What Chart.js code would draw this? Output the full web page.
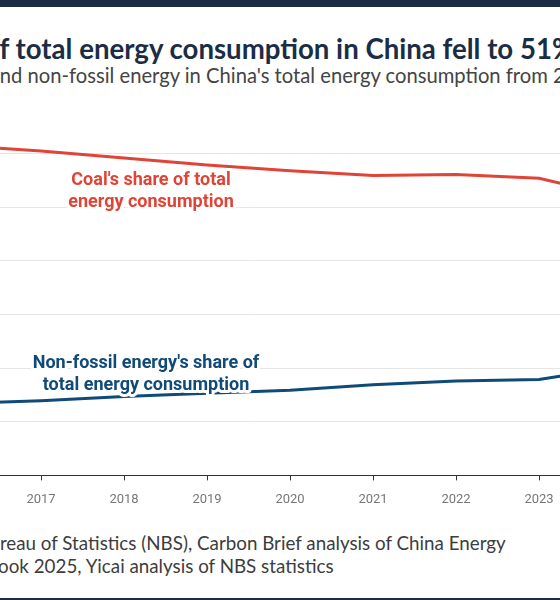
<!DOCTYPE html>
<html><head><meta charset="utf-8">
<script src="https://cdn.jsdelivr.net/npm/chart.js@4.4.1/dist/chart.umd.min.js"></script>
<style>
html,body{margin:0;padding:0;width:560px;height:600px;overflow:hidden;background:#fff;position:relative}
.bar-top{position:absolute;left:0;top:0;width:560px;height:7px;background:#1b2d45}
.bar-bot{position:absolute;left:0;top:598px;width:560px;height:2px;background:#1b2d45}
.txt{position:absolute;white-space:nowrap;font-family:Lato,"Noto Sans",sans-serif}
#title{font-weight:700;font-size:27.6px;line-height:32px;color:#1b2d45;top:33px}
#sub{font-size:20.2px;line-height:24px;color:#444;top:63px}
.src{font-size:18.8px;line-height:23px;color:#3d3d3d}
#src1{top:531px}
#src2{top:554px}
#chartBox{position:absolute;left:-200px;top:90px;width:860px;height:436px}
</style></head>
<body>
<div class="bar-top"></div>
<div id="title" class="txt"><span class="pre">Coal's share o</span>f total energy consumption in China fell to 51% in 2024</div>
<div id="sub" class="txt"><span class="pre">Share of coal a</span>nd non-fossil energy in China's total energy consumption from 2015 to 2024</div>
<div id="chartBox"><canvas id="c"></canvas></div>
<div id="src1" class="txt src"><span class="pre">Source: National Bu</span>reau of Statistics (NBS), Carbon Brief analysis of China Energy</div>
<div id="src2" class="txt src"><span class="pre">Statistical Yearbo</span>ok 2025, Yicai analysis of NBS statistics</div>
<div class="bar-bot"></div>
<script>
// ---- data ----
const years = ['2015','2016','2017','2018','2019','2020','2021','2022','2023','2024'];
const coalShare = [63.5, 61.5, 60.5, 59.2, 57.9, 56.8, 55.9, 56.1, 55.4, 51.8];
const nonFossilShare = [12.1, 13.4, 13.9, 14.7, 15.3, 15.9, 16.9, 17.6, 17.9, 20.3];
const yTicks = [0, 10, 20, 30, 40, 50, 60];
const coalLabel = ["Coal's share of total", "energy consumption"];
const nonFossilLabel = ["Non-fossil energy's share of", "total energy consumption"];

// align cropped text lines
document.querySelectorAll('.txt').forEach(el => {
  const pre = el.querySelector('.pre');
  el.style.left = (-pre.offsetWidth) + 'px';
});
const s2 = document.getElementById('src2');
s2.style.left = (parseFloat(s2.style.left) + 9) + 'px';

const coalColor = '#df4436';
const nfColor = '#0f4a78';

const annotations = [
  {lines: coalLabel, xi: 3.325, yv: 52.96, color: coalColor},
  {lines: nonFossilLabel, xi: 3.265, yv: 18.8, color: nfColor}
];

const labelPlugin = {
  id: 'lineLabels',
  afterDatasetsDraw(chart) {
    const ctx = chart.ctx;
    const xs = chart.scales.x, ys = chart.scales.y;
    ctx.save();
    ctx.font = 'bold 18px Roboto';
    ctx.textAlign = 'center';
    ctx.textBaseline = 'middle';
    ctx.lineJoin = 'round';
    annotations.forEach(a => {
      const i0 = Math.floor(a.xi), f = a.xi - i0;
      const px = xs.getPixelForValue(i0) + f * (xs.getPixelForValue(i0 + 1) - xs.getPixelForValue(i0));
      const py = ys.getPixelForValue(a.yv);
      const n = a.lines.length;
      a.lines.forEach((t, k) => {
        const y = py + (k - (n - 1) / 2) * 21.5;
        ctx.strokeStyle = '#fff';
        ctx.lineWidth = 6;
        ctx.strokeText(t, px, y);
      });
      a.lines.forEach((t, k) => {
        const y = py + (k - (n - 1) / 2) * 21.5;
        ctx.fillStyle = a.color;
        ctx.fillText(t, px, y);
      });
    });
    ctx.restore();
  }
};

Chart.defaults.font.family = 'Roboto';
new Chart(document.getElementById('c'), {
  type: 'line',
  data: {
    labels: years,
    datasets: [
      {label: 'Coal', data: coalShare, borderColor: coalColor, borderWidth: 3, pointRadius: 0, tension: 0, fill: false},
      {label: 'Non-fossil', data: nonFossilShare, borderColor: nfColor, borderWidth: 3, pointRadius: 0, tension: 0, fill: false}
    ]
  },
  options: {
    responsive: true,
    maintainAspectRatio: false,
    animation: false,
    events: [],
    layout: {padding: {left: 75, right: 38, top: 10, bottom: 6}},
    plugins: {legend: {display: false}, tooltip: {enabled: false}},
    scales: {
      x: {
        grid: {display: true, drawOnChartArea: false, drawTicks: true, tickLength: 5, tickColor: '#333'},
        border: {display: true, color: '#333', width: 1},
        ticks: {color: '#777', font: {size: 13}, padding: 12, maxRotation: 0, autoSkip: false}
      },
      y: {
        min: 0, max: 70,
        afterBuildTicks: s => { s.ticks = yTicks.map(v => ({value: v})); },
        grid: {color: '#e6e6e6', lineWidth: 1, drawTicks: false},
        border: {display: false},
        ticks: {display: false}
      }
    }
  },
  plugins: [labelPlugin]
});
</script>
</body></html>
